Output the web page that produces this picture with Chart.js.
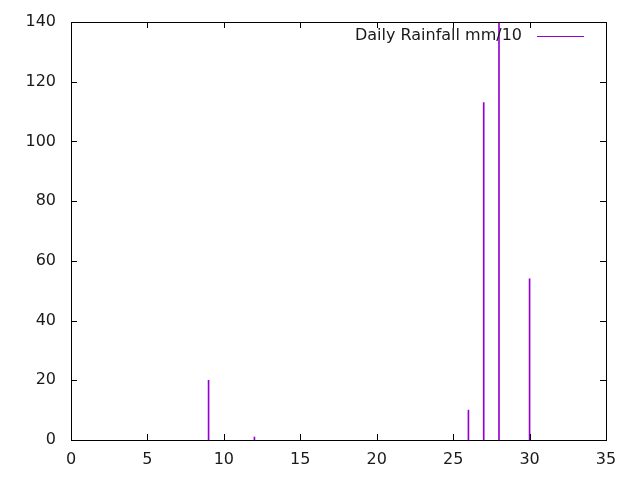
<!DOCTYPE html>
<html>
<head>
<meta charset="utf-8">
<script src="https://cdn.jsdelivr.net/npm/chart.js@4"></script>
<style>
  html, body { margin: 0; padding: 0; background: #fff; }
</style>
</head>
<body>
<canvas id="rain" width="640" height="480"></canvas>
<script>
// days with rain and the daily amount (mm/10)
const days = [9, 12, 26, 27, 28, 30];
const rainfall = [20, 1, 10, 113, 140, 54];
const xTicks = [0, 5, 10, 15, 20, 25, 30, 35];
const yTicks = [0, 20, 40, 60, 80, 100, 120, 140];
const seriesLabel = "Daily Rainfall mm/10";

const purple = "#9400d3";
const textColor = "#1a1a1a";
const font = { family: "DejaVu Sans", size: 16 };

// gnuplot style frame: border box, inward ticks mirrored on top/right, key inside
const framePlugin = {
    id: "frame",
    afterDatasetsDraw(chart) {
        const ctx = chart.ctx;
        const a = chart.chartArea;
        const xs = chart.scales.x, ys = chart.scales.y;
        ctx.save();
        ctx.strokeStyle = "#000";
        ctx.lineWidth = 1;
        ctx.beginPath();
        xTicks.forEach(v => {
            let px = Math.round(xs.getPixelForValue(v)) + 0.5;
            ctx.moveTo(px, a.bottom); ctx.lineTo(px, a.bottom - 6);
            ctx.moveTo(px, a.top); ctx.lineTo(px, a.top + 6);
        });
        yTicks.forEach(v => {
            let py = Math.round(ys.getPixelForValue(v)) + 0.5;
            ctx.moveTo(a.left, py); ctx.lineTo(a.left + 6, py);
            ctx.moveTo(a.right, py); ctx.lineTo(a.right - 6, py);
        });
        ctx.stroke();
        ctx.strokeRect(Math.round(a.left) + 0.5, Math.round(a.top) + 0.5,
            Math.round(a.right - a.left), Math.round(a.bottom - a.top));

        // key
        ctx.font = font.size + "px " + font.family;
        ctx.fillStyle = textColor;
        ctx.textAlign = "right";
        ctx.textBaseline = "middle";
        ctx.fillText(seriesLabel, a.right - 84, a.top + 14);
        ctx.strokeStyle = purple;
        ctx.beginPath();
        ctx.moveTo(a.right - 69, a.top + 14.5);
        ctx.lineTo(a.right - 22, a.top + 14.5);
        ctx.stroke();
        ctx.restore();
    }
};

new Chart(document.getElementById("rain"), {
    type: "bar",
    data: {
        datasets: [{
            label: seriesLabel,
            data: days.map((d, i) => ({ x: d, y: rainfall[i] })),
            backgroundColor: purple,
            borderWidth: 0,
            barThickness: 1
        }]
    },
    options: {
        responsive: false,
        animation: false,
        maintainAspectRatio: false,
        devicePixelRatio: 1,
        layout: { padding: { top: 22, right: 34, left: 0, bottom: 0 } },
        plugins: { legend: { display: false }, tooltip: { enabled: false } },
        scales: {
            x: {
                type: "linear",
                min: 0, max: 35,
                offset: false,
                grid: { display: false, drawTicks: false },
                border: { display: false },
                afterFit(s) { s.height = 40; s.paddingLeft = 0; s.paddingRight = 0; },
                afterBuildTicks(s) { s.ticks = xTicks.map(v => ({ value: v })); },
                ticks: { color: textColor, font: font, padding: 10, maxRotation: 0, autoSkip: false }
            },
            y: {
                min: 0, max: 140,
                grid: { display: false, drawTicks: false },
                border: { display: false },
                afterFit(s) { s.width = 71; s.paddingTop = 0; s.paddingBottom = 0; },
                afterBuildTicks(s) { s.ticks = yTicks.map(v => ({ value: v })); },
                ticks: { color: textColor, font: font, padding: 15, autoSkip: false }
            }
        }
    },
    plugins: [framePlugin]
});
</script>
</body>
</html>
